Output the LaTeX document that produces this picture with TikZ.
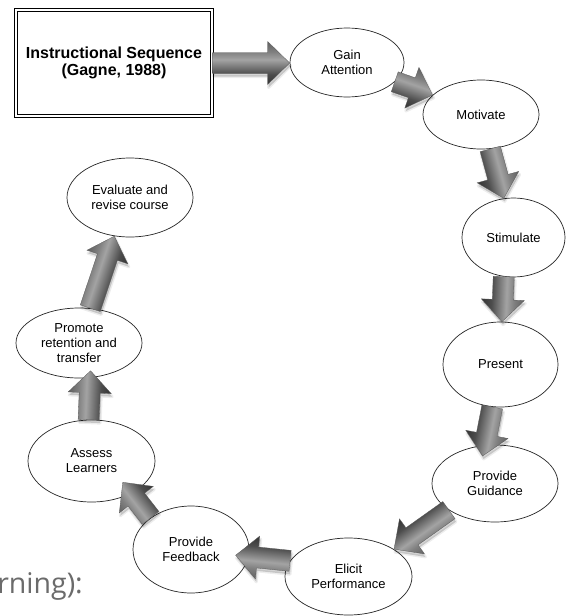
\documentclass[tikz,border=0pt]{standalone}
\usepackage{fontspec}
\setmainfont{Liberation Sans}
\newfontfamily\captionfont{Open Sans}
\usetikzlibrary{shapes.geometric,calc}

\definecolor{arA}{gray}{0.20}
\definecolor{arB}{gray}{0.30}
\definecolor{arC}{gray}{0.64}
\definecolor{arD}{gray}{0.50}
\definecolor{arE}{gray}{0.38}
\definecolor{capgray}{gray}{0.42}

\pgfdeclareverticalshading{barshade}{100bp}{color(0bp)=(arA); color(25bp)=(arA); color(37bp)=(arB); color(54bp)=(arC); color(63bp)=(arD); color(75bp)=(arE); color(100bp)=(arE)}

% block arrow from #2 to #3, tip pushed #1 further along its direction
\newcommand\barpath{(0pt,-10.5pt) -- (\bhead pt,-10.5pt) -- (\bhead pt,-21.5pt) -- (\blen pt,0pt) -- (\bhead pt,21.5pt) -- (\bhead pt,10.5pt) -- (0pt,10.5pt) -- cycle}
\newcommand\barrow[3][0pt]{%
  \path let \p1=(#2), \p2=(#3) in \pgfextra{%
    \pgfmathsetmacro\bang{atan2(\y2-\y1,\x2-\x1)}%
    \pgfmathsetmacro\blen{veclen(\x2-\x1,\y2-\y1)+#1}%
    \pgfmathsetmacro\bhead{\blen-22}%
    \pgfmathsetmacro\bx{\x1}%
    \pgfmathsetmacro\by{\y1}%
    \global\let\bang\bang \global\let\blen\blen \global\let\bhead\bhead
    \global\let\bx\bx \global\let\by\by};
  \begin{scope}[transform canvas={shift={(\bx pt+1pt,\by pt-3pt)},rotate=\bang}]
    \fill[black,opacity=.16] \barpath;
    \draw[black,opacity=.07,line width=3pt,line join=round] \barpath;
  \end{scope}
  \begin{scope}[transform canvas={shift={(\bx pt,\by pt)},rotate=\bang}]
    \shade[shading=barshade,draw=black!65,line width=.3pt,line join=miter] \barpath;
  \end{scope}
}

\tikzset{
  stage/.style={ellipse, draw=black!85, line width=0.7pt, fill=white, inner sep=0pt,
    align=center, font=\fontsize{13}{15}\selectfont},
  titlebox/.style={draw=black, line width=0.8pt, double=white, double distance=1.8pt,
    fill=white, inner sep=0pt, align=center, font=\bfseries\fontsize{16}{16.5}\selectfont},
  captiontext/.style={text=capgray, inner sep=0pt, font=\captionfont\fontsize{28.5}{32}\selectfont}
}

\begin{document}
\begin{tikzpicture}[x=1pt,y=-1pt]
\fill[white] (0,0) rectangle (575,616);
\useasboundingbox (0,0) rectangle (575,616);

\node[titlebox, minimum width=196.2pt, minimum height=106.2pt] (box) at (114,63) {Instructional Sequence\\(Gagne, 1988)};

\node[stage, minimum width=114pt, minimum height=69pt] (gain) at (347,62.5) {Gain\\Attention};
\node[stage, minimum width=116pt, minimum height=69pt] (motivate) at (481,114.5) {Motivate};
\node[stage, minimum width=103pt, minimum height=79pt] (stimulate) at (513.5,237.5) {Stimulate};
\node[stage, minimum width=115pt, minimum height=85pt] (present) at (500.5,364.5) {Present};
\node[stage, minimum width=126pt, minimum height=77pt] (guidance) at (495,483.5) {Provide\\Guidance};
\node[stage, minimum width=127pt, minimum height=77pt] (elicit) at (348.5,576.5) {Elicit\\Performance};
\node[stage, minimum width=116pt, minimum height=87pt] (feedback) at (191,549.5) {Provide\\Feedback};
\node[stage, minimum width=127pt, minimum height=82pt] (assess) at (91.5,461) {Assess\\Learners};
\node[stage, minimum width=126pt, minimum height=70pt] (promote) at (79,343) {Promote\\retention and\\transfer};
\node[stage, minimum width=126pt, minimum height=79pt] (evaluate) at (130,197.5) {Evaluate and\\revise course};

\barrow{box.east}{box.east -| gain.west}
\barrow{gain.-22}{motivate.158}
\barrow{motivate.-75}{stimulate.104}
\barrow{stimulate.-104}{present.88}
\barrow[11pt]{present.-101}{guidance.105}
\barrow{guidance.-150}{elicit.31}
\barrow[13pt]{elicit.165}{feedback.-7}
\barrow[14pt]{feedback.142}{assess.-39}
\barrow[7pt]{assess.94}{promote.-72}
\barrow{promote.72}{evaluate.-112}

\node[captiontext, anchor=base east] (caption) at (83,593) {arning):};
\end{tikzpicture}
\end{document}
